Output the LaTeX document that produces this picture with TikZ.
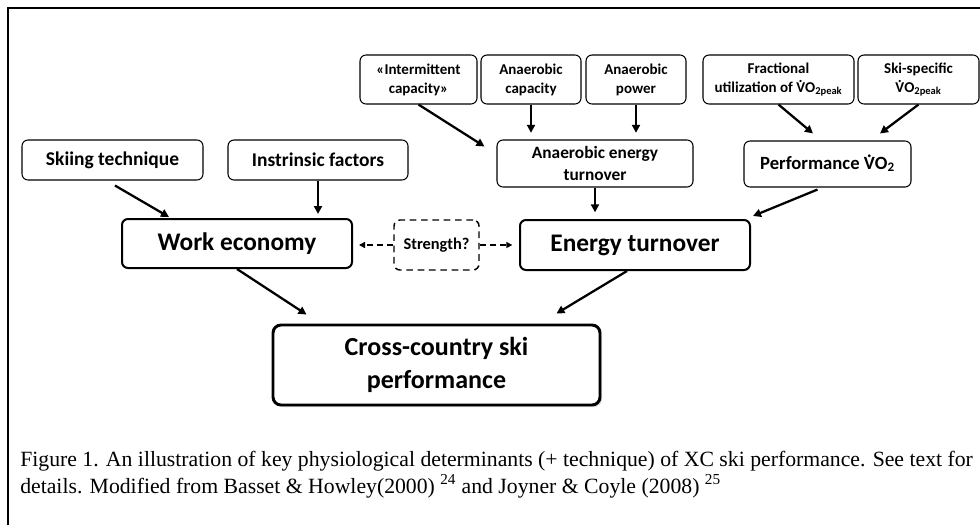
\documentclass[tikz,border=0pt]{standalone}
\usepackage{fontspec}
\setmainfont{Carlito}
\newfontfamily\capfont{Liberation Serif}
\usetikzlibrary{arrows.meta,calc,shadows}
\newcommand\Vd{{\ooalign{V\cr\hidewidth\raisebox{0.62em}{.}\hidewidth\cr}}}
\newcommand\bxnode[7][]{\node[#1, minimum width={(#5-#3)*0.75pt}, minimum height={(#6-#4)*0.75pt}] (#2) at ({(#3+#5)/2},{(#4+#6)/2}) {#7};}
\begin{document}
\begin{tikzpicture}[x=0.75pt,y=-0.75pt,
  box/.style={draw, rounded corners=4.5pt, line width=0.8pt, inner sep=0pt, align=center,
    font=\bfseries\fontsize{11.25}{14.25}\selectfont},
  midbox/.style={box, font=\bfseries\fontsize{14.6}{17}\selectfont},
  bigbox/.style={box, line width=1.5pt, font=\bfseries\fontsize{19}{23}\selectfont},
  arr/.style={-{Triangle[length=6pt,width=6pt]}, line width=1.7pt},
  darr/.style={-{Triangle[length=4.5pt,width=4.5pt]}, line width=1.1pt, dash pattern=on 4.5pt off 3pt},
  captext/.style={anchor=base west, inner sep=0pt, font=\capfont\fontsize{16.3}{20}\selectfont}]
\useasboundingbox (0,0) rectangle (980,525);
\fill[white] (0,0) rectangle (980,525);
\draw[line width=1.6pt] (8,525) -- (8,8) -- (980,8);

% top row
\bxnode[box]{ic}{360}{55}{477}{104}{«Intermittent\\capacity»}
\bxnode[box]{ac}{481}{55}{581}{104}{Anaerobic\\capacity}
\bxnode[box]{ap}{586}{55}{686}{104}{Anaerobic\\power}
\bxnode[box]{fu}{703}{55}{854}{104}{Fractional\\utilization of \Vd O\textsubscript{2peak}}
\bxnode[box]{ss}{858}{55}{979}{104}{Ski-specific\\\Vd O\textsubscript{2peak}}

% second row
\bxnode[midbox]{sk}{22}{140}{203}{180}{Skiing technique}
\bxnode[midbox]{inf}{228}{140}{408}{180}{Instrinsic factors}
\bxnode[box, font=\bfseries\fontsize{13}{16.5}\selectfont]{aet}{497}{140}{693}{187}{Anaerobic energy\\turnover}
\bxnode[midbox, font=\bfseries\fontsize{14}{17}\selectfont]{pv}{744}{141}{911}{187}{Performance \Vd O\textsubscript{2}}

% third row
\bxnode[bigbox]{we}{122}{219}{352}{268}{Work economy}
\bxnode[box, line width=1.1pt, dash pattern=on 5pt off 3.5pt, font=\bfseries\fontsize{12.3}{14}\selectfont]{str}{394}{220}{479}{270}{Strength?}
\bxnode[bigbox]{et}{520}{220}{750}{270}{Energy turnover}

% bottom
\bxnode[box, line width=2.2pt, rounded corners=6pt,
  drop shadow={shadow xshift=1.5pt, shadow yshift=-1.5pt, opacity=0.3},
  fill=white, font=\bfseries\fontsize{19.5}{24.75}\selectfont]{xc}{273}{325}{600}{405}{Cross-country ski\\performance}

% arrows
\draw[arr] (ic.south) -- ($(aet.north west)+(-12,7)$);
\draw[arr, shorten >=5pt] (ac.south) -- (ac.south |- aet.north);
\draw[arr, shorten >=5pt] (ap.south) -- (ap.south |- aet.north);
\draw[arr] (fu.south) -- ($(pv.north)+(-14.5,-7)$);
\draw[arr] (ss.south) -- ($(pv.north)+(52.5,-7)$);
\draw[arr] ($(pv.south)+(-10,2)$) -- ($(et.north east)+(2,-3)$);
\draw[arr, shorten >=5pt] (aet.south) -- (aet.south |- et.north);
\draw[arr] ($(sk.south)+(2.5,5)$) -- ($(we.north west)+(48,-1)$);
\draw[arr, shorten >=3pt] (inf.south) -- (inf.south |- we.north);
\draw[darr, shorten >=4.5pt] (str.west) -- (str.west -| we.east);
\draw[darr, shorten >=5pt] (str.east) -- (str.east -| et.west);
\draw[arr] (we.south) -- ($(xc.north west)+(35,-9)$);
\draw[arr] ($(et.south)+(-8,0)$) -- ($(xc.north east)+(-45,-10)$);

% caption
\node[captext] (cap1) at (20,466) {Figure 1. An illustration of key physiological determinants (+ technique) of XC ski performance. See text for};
\node[captext] (cap2) at (20,493) {details. Modified from Basset \& Howley(2000) \textsuperscript{24} and Joyner \& Coyle (2008) \textsuperscript{25}};
\end{tikzpicture}
\end{document}
